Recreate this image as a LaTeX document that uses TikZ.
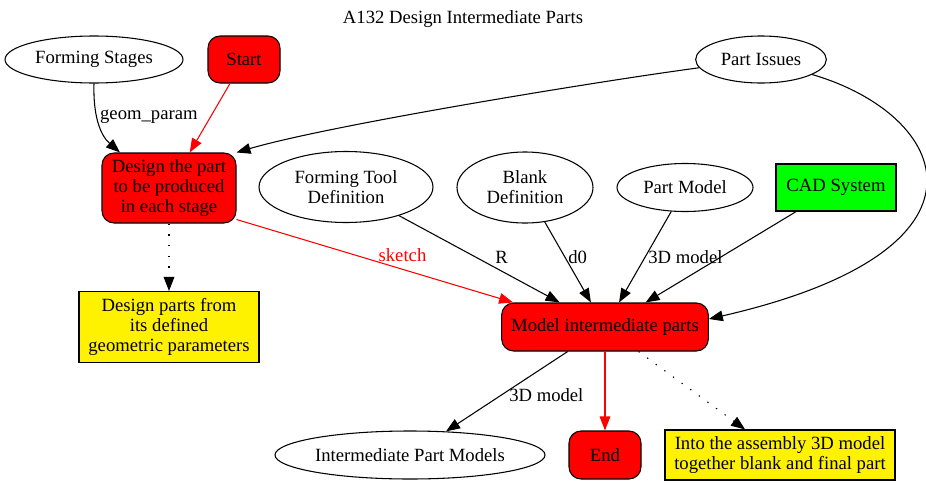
\documentclass[tikz,border=0pt]{standalone}
\usepackage{fontspec}
\setmainfont{Liberation Serif}
\usetikzlibrary{arrows.meta,calc,shapes.geometric}

\begin{document}
\begin{tikzpicture}[
    x=0.75pt, y=-0.75pt,
    line width=0.8pt,
    font=\fontsize{14pt}{15pt}\selectfont,
    every node/.style={inner sep=0pt},
    oval/.style={ellipse, draw, align=center},
    process/.style={rectangle, draw, rounded corners=9pt, fill=red, align=center},
    note/.style={rectangle, draw, fill=yellow, align=center},
    tool/.style={rectangle, draw, fill=green, align=center},
    arrow/.style={-{Triangle[length=10.5pt,width=8pt]}},
    flow/.style={arrow, red},
    remark/.style={arrow, dash pattern=on 1pt off 7pt},
    lbl/.style={inner sep=2pt}
]
\useasboundingbox (0,0) rectangle (926,486);

% Title
\node (title) at (463,19) {A132 Design Intermediate Parts};

% Top row
\node[oval, minimum width=133.5pt, minimum height=35.25pt] (fstages) at (94,59.5) {Forming Stages};
\node[process, minimum width=54pt, minimum height=35.25pt] (start) at (244,59.5) {Start};
\node[oval, minimum width=98pt, minimum height=35.25pt] (pissues) at (761,59.5) {Part Issues};

% Design activity and its inputs
\node[process, minimum width=100.5pt, minimum height=52.5pt] (design) at (169,188) {Design the part\\to be produced\\in each stage};
\node[oval, minimum width=130.5pt, minimum height=53.25pt] (ftool) at (346,187) {Forming Tool\\Definition};
\node[oval, minimum width=102pt, minimum height=53.25pt] (blank) at (525,187.5) {Blank\\Definition};
\node[oval, minimum width=102pt, minimum height=36pt] (pmodel) at (685,187.5) {Part Model};
\node[tool, minimum width=90pt, minimum height=35.25pt] (cad) at (836,187.5) {CAD System};

% Middle row
\node[note, minimum width=135pt, minimum height=53.25pt] (dparts) at (169,327) {Design parts from\\its defined\\geometric parameters};
\node[process, minimum width=155pt, minimum height=36pt] (model) at (605,327) {Model intermediate parts};

% Outputs
\node[oval, minimum width=202.5pt, minimum height=36pt] (ipm) at (410,455) {Intermediate Part Models};
\node[process, minimum width=54pt, minimum height=36pt] (end) at (605,455) {End};
\node[note, minimum width=172.5pt, minimum height=37.5pt] (assembly) at (780,455) {Into the assembly 3D model\\together blank and final part};

% Connections
\draw[arrow] (fstages.south) .. controls (93,115) and (100,135) .. node[lbl, pos=0.4, anchor=west] {geom\_param} ($(design.north)+(-49,0)$);
\draw[flow] (start) -- (design);
\draw[arrow] (pissues) .. controls (600,81) and (330,125) .. (design.north east);
\draw[arrow] (pissues) .. controls (950,115) and (1010,250) .. ($(model.east)+(0,-8)$);

\draw[remark] (design) -- (dparts);
\draw[flow] (design.-25) -- node[lbl, pos=0.6, anchor=south, yshift=3pt] {sketch} ($(model.north west)+(12,0)$);
\draw[arrow] (ftool) -- node[lbl, pos=0.48, anchor=west, xshift=12pt] {R} (model);
\draw[arrow] (blank) -- node[lbl, pos=0.44, anchor=west] {d0} (model);
\draw[arrow] (pmodel) -- node[lbl, pos=0.5, anchor=west] {3D model} (model);
\draw[arrow] (cad) -- (model);

\draw[arrow] (model) -- node[lbl, pos=0.55, anchor=west, xshift=4pt] {3D model} (ipm);
\draw[flow] (model) -- (end);
\draw[remark] (model) -- (assembly);

\end{tikzpicture}
\end{document}
